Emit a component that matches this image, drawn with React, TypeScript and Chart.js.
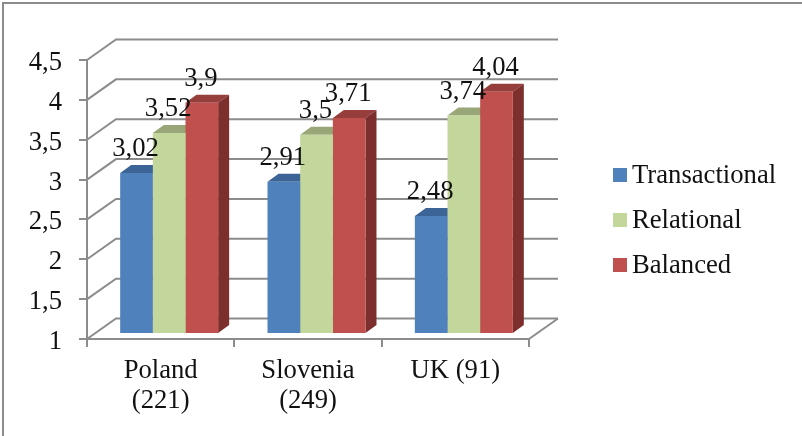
import React, { useEffect, useRef } from "react";
import { Chart, registerables } from "chart.js";

Chart.register(...registerables);

const categories = [["Poland", "(221)"], ["Slovenia", "(249)"], ["UK (91)"]];
const seriesNames = ["Transactional", "Relational", "Balanced"];
const transactional = [3.02, 2.91, 2.48];
const relational = [3.52, 3.5, 3.74];
const balanced = [3.9, 3.71, 4.04];
const frontColors = ["#4F81BD", "#C3D69B", "#C0504D"];
const topColors = ["#3D6496", "#98A678", "#953E3C"];
const sideColors = ["#33547D", "#7F8B64", "#7C2F2D"];

const FONT = "'Liberation Serif', serif";
const FONT_SIZE = 26.67;
const TEXT = "#111111";
const GRID = "#8C8C8C";
const WALL_DX = 29;
const WALL_DY = -20.5;
const BAR_SHIFT_X = 8.5;
const BAR_SHIFT_Y = -5;
const BAR_DX = 11;
const BAR_DY = -8;
const LEGEND_X = 613;
const LEGEND_Y = 168;
const LEGEND_STEP = 45;
const LEGEND_BOX = 14;

const fmt = (v: number) => String(v).replace(".", ",");

const bar3d = {
  id: "bar3d",
  beforeDraw(chart: any) {
    const { ctx, scales, chartArea } = chart;
    ctx.save();
    ctx.strokeStyle = GRID;
    ctx.lineWidth = 2;
    // wall gridlines
    for (const t of scales.y.ticks) {
      const y = scales.y.getPixelForValue(t.value);
      ctx.beginPath();
      ctx.moveTo(chartArea.left, y);
      ctx.lineTo(chartArea.left + WALL_DX, y + WALL_DY);
      ctx.lineTo(chartArea.right + WALL_DX, y + WALL_DY);
      ctx.stroke();
    }
    // floor right edge
    ctx.beginPath();
    ctx.moveTo(chartArea.right, chartArea.bottom);
    ctx.lineTo(chartArea.right + WALL_DX, chartArea.bottom + WALL_DY);
    ctx.stroke();
    ctx.restore();
  },
  beforeDatasetsDraw(chart: any) {
    const { ctx } = chart;
    ctx.save();
    ctx.translate(BAR_SHIFT_X, BAR_SHIFT_Y);
    chart.data.datasets.forEach((_: any, i: number) => {
      for (const el of chart.getDatasetMeta(i).data as any[]) {
        const w = el.width;
        const l = el.x - w / 2;
        const r = el.x + w / 2;
        ctx.fillStyle = topColors[i];
        ctx.beginPath();
        ctx.moveTo(l, el.y);
        ctx.lineTo(l + BAR_DX, el.y + BAR_DY);
        ctx.lineTo(r + BAR_DX, el.y + BAR_DY);
        ctx.lineTo(r, el.y);
        ctx.closePath();
        ctx.fill();
        ctx.fillStyle = sideColors[i];
        ctx.beginPath();
        ctx.moveTo(r, el.y);
        ctx.lineTo(r + BAR_DX, el.y + BAR_DY);
        ctx.lineTo(r + BAR_DX, el.base + BAR_DY);
        ctx.lineTo(r, el.base);
        ctx.closePath();
        ctx.fill();
      }
    });
    // front faces are drawn by the library on the same shifted plane
  },
  afterDatasetsDraw(chart: any) {
    const { ctx } = chart;
    ctx.restore();
    ctx.save();
    ctx.font = `${FONT_SIZE}px ${FONT}`;
    ctx.fillStyle = TEXT;
    ctx.textAlign = "center";
    ctx.textBaseline = "alphabetic";
    chart.data.datasets.forEach((ds: any, i: number) => {
      chart.getDatasetMeta(i).data.forEach((el: any, j: number) => {
        ctx.fillText(fmt(ds.data[j]), el.x + BAR_SHIFT_X - 1, el.y + BAR_SHIFT_Y - 17);
      });
    });
    // legend
    ctx.textAlign = "left";
    chart.data.datasets.forEach((ds: any, i: number) => {
      const top = LEGEND_Y + i * LEGEND_STEP;
      ctx.fillStyle = ds.backgroundColor;
      ctx.fillRect(LEGEND_X, top, LEGEND_BOX, LEGEND_BOX);
      ctx.fillStyle = TEXT;
      ctx.fillText(ds.label, LEGEND_X + LEGEND_BOX + 5, top + LEGEND_BOX + 0.5);
    });
    ctx.restore();
  },
};

export default function App() {
  const ref = useRef<HTMLCanvasElement>(null);
  useEffect(() => {
    const chart = new Chart(ref.current!, {
      type: "bar",
      data: {
        labels: categories as any,
        datasets: [transactional, relational, balanced].map((data, i) => ({
          label: seriesNames[i],
          data,
          base: 1,
          backgroundColor: frontColors[i],
          borderWidth: 0,
          clip: false as any,
          barPercentage: 1,
          categoryPercentage: 0.665,
        })),
      },
      options: {
        responsive: false,
        animation: false,
        devicePixelRatio: 1,
        layout: { padding: { top: 60, left: 0, right: 273, bottom: 0 } },
        plugins: {
          tooltip: { enabled: false },
          title: { display: false },
          legend: { display: false },
        },
        scales: {
          x: {
            grid: {
              display: true,
              drawOnChartArea: false,
              drawTicks: true,
              tickLength: 8,
              color: GRID,
              lineWidth: 2,
              offset: true,
            },
            border: { display: true, color: GRID, width: 2 },
            ticks: {
              color: TEXT,
              font: { family: FONT, size: FONT_SIZE, lineHeight: 1.12 },
              padding: 9,
              maxRotation: 0,
              autoSkip: false,
            },
            afterFit(s: any) {
              s.height = 97;
            },
          },
          y: {
            min: 1,
            max: 4.5,
            grid: {
              display: true,
              drawOnChartArea: false,
              drawTicks: true,
              tickLength: 8,
              color: GRID,
              lineWidth: 2,
            },
            border: { display: true, color: GRID, width: 2 },
            ticks: {
              stepSize: 0.5,
              color: TEXT,
              padding: 17,
              labelOffset: 3,
              font: { family: FONT, size: FONT_SIZE },
              callback: (v: any) => fmt(Number(v)),
            },
            afterFit(s: any) {
              s.width = 87;
            },
          },
        },
      } as any,
      plugins: [bar3d as any],
    });
    return () => chart.destroy();
  }, []);
  return (
    <div style={{ position: "fixed", left: 0, top: 0, width: 802, height: 436, background: "#fff" }}>
      <canvas ref={ref} width={802} height={436} style={{ display: "block" }} />
      <div style={{ position: "absolute", left: 2, top: 2, width: 800, height: 2, background: GRID }} />
      <div style={{ position: "absolute", left: 2, top: 2, width: 2, height: 434, background: GRID }} />
    </div>
  );
}
